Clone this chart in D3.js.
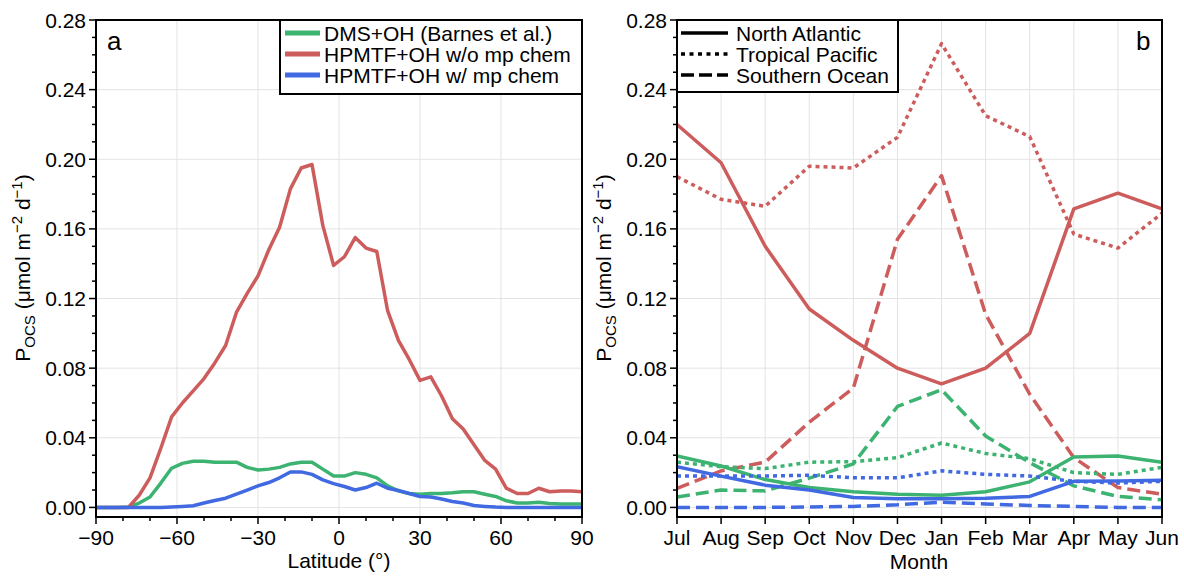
<!DOCTYPE html>
<html><head><meta charset="utf-8">
<script src="https://cdn.jsdelivr.net/npm/d3@7"></script>
<style>
body{margin:0;background:#fff}
svg{display:block}
text{font-family:"Liberation Sans",Arial,Helvetica,sans-serif;fill:#000}
</style>
</head><body>
<svg id="c" width="1184" height="577"></svg>
<script>
// ---------- Panel a data ----------
const latitudes = [-90,-86,-82,-78,-74,-70,-66,-62,-58,-54,-50,-46,-42,-38,-34,-30,-26,-22,-18,-14,-10,-6,-2,2,6,10,14,18,22,26,30,34,38,42,46,50,54,58,62,66,70,74,78,82,86,90];
const dmsOH = [0,0,0,0.0003,0.0025,0.006,0.014,0.0225,0.0253,0.0265,0.0265,0.026,0.026,0.026,0.023,0.0215,0.022,0.023,0.025,0.026,0.026,0.022,0.018,0.018,0.020,0.019,0.017,0.0124,0.0095,0.008,0.0076,0.008,0.008,0.0084,0.009,0.009,0.0076,0.0063,0.0038,0.0025,0.0025,0.003,0.0023,0.002,0.002,0.002];
const hpmtfNoMp = [0,0,0,0,0.007,0.017,0.034,0.052,0.060,0.067,0.074,0.083,0.093,0.112,0.123,0.133,0.148,0.161,0.183,0.195,0.197,0.162,0.139,0.144,0.155,0.149,0.147,0.113,0.096,0.085,0.073,0.075,0.064,0.051,0.045,0.036,0.027,0.022,0.011,0.008,0.008,0.011,0.009,0.0095,0.0095,0.009];
const hpmtfMp = [0,0,0,0,0,0,0,0.0003,0.0006,0.001,0.0025,0.004,0.0053,0.0076,0.010,0.0124,0.0143,0.017,0.0204,0.0204,0.019,0.0158,0.0137,0.012,0.010,0.0114,0.0139,0.011,0.0097,0.008,0.0063,0.006,0.0048,0.0034,0.0025,0.0011,0.0006,0.0002,0,0,0,0,0,0,0,0];
const latTicks = [-90,-60,-30,0,30,60,90];
const latMinorTicks = [-80,-70,-50,-40,-20,-10,10,20,40,50,70,80];

// ---------- Panel b data ----------
const months = ["Jul","Aug","Sep","Oct","Nov","Dec","Jan","Feb","Mar","Apr","May","Jun"];
const naNoMp = [0.220,0.198,0.150,0.114,0.096,0.080,0.071,0.080,0.100,0.1715,0.1805,0.1715];
const tpNoMp = [0.190,0.177,0.173,0.196,0.195,0.2126,0.2664,0.225,0.213,0.157,0.149,0.169];
const soNoMp = [0.011,0.021,0.026,0.049,0.0686,0.154,0.1906,0.111,0.065,0.0286,0.0114,0.0076];
const naDms = [0.0295,0.0238,0.016,0.0114,0.009,0.0076,0.007,0.009,0.0147,0.029,0.0295,0.026];
const tpDms = [0.026,0.0234,0.0223,0.026,0.0263,0.0286,0.037,0.031,0.028,0.020,0.019,0.023];
const soDms = [0.006,0.010,0.0095,0.0168,0.025,0.058,0.0676,0.041,0.0257,0.0124,0.0063,0.0044];
const naMp = [0.0234,0.018,0.0128,0.010,0.0057,0.005,0.005,0.0053,0.0063,0.015,0.0152,0.0156];
const tpMp = [0.018,0.018,0.018,0.0185,0.017,0.017,0.021,0.019,0.018,0.015,0.014,0.015];
const soMp = [0,0,0,0.0002,0.0006,0.0015,0.003,0.002,0.0011,0.0006,0,0];

const yTicks = [0,0.04,0.08,0.12,0.16,0.20,0.24,0.28];
const yMinorTicks = [0.01,0.02,0.03,0.05,0.06,0.07,0.09,0.10,0.11,0.13,0.14,0.15,0.17,0.18,0.19,0.21,0.22,0.23,0.25,0.26,0.27];

const seriesNames = ["DMS+OH (Barnes et al.)","HPMTF+OH w/o mp chem","HPMTF+OH w/ mp chem"];
const regionNames = ["North Atlantic","Tropical Pacific","Southern Ocean"];

// ---------- styles ----------
const GREEN = "#3cb371", RED = "#cd5c5c", BLUE = "#4169e1";
const DOT = "4,4", DASH = "13,6";
const LW = 3.5;

const svg = d3.select("#c");
const plotTop = 20, plotBottom = 517;
const yDomain = [-0.0055, 0.28];

function ylabel(g, x, y) {
  const t = g.append("text").attr("transform", `translate(${x},${y}) rotate(-90)`)
    .attr("text-anchor","middle").style("font-size","21px");
  t.append("tspan").text("P");
  t.append("tspan").attr("dy",5).style("font-size","15px").text("OCS");
  t.append("tspan").attr("dy",-5).text(" (\u03bcmol m");
  t.append("tspan").attr("dy",-8).style("font-size","15px").text("\u22122");
  t.append("tspan").attr("dy",8).text(" d");
  t.append("tspan").attr("dy",-8).style("font-size","15px").text("\u22121");
  t.append("tspan").attr("dy",8).text(")");
}

function panel(left, right, x, xTickVals, xTickLabels, xMinor, id) {
  const y = d3.scaleLinear().domain(yDomain).range([plotBottom, plotTop]);
  const g = svg.append("g");
  svg.append("clipPath").attr("id","clip"+id).append("rect")
    .attr("x",left).attr("y",plotTop).attr("width",right-left).attr("height",plotBottom-plotTop);
  const grid = g.append("g").attr("stroke","#e3e3e3").attr("stroke-width",1);
  xTickVals.forEach(v => { const px = x(v); if (px > left+1 && px < right-1)
    grid.append("line").attr("x1",px).attr("x2",px).attr("y1",plotTop).attr("y2",plotBottom); });
  yTicks.forEach(v => { const py = y(v); if (py > plotTop+1)
    grid.append("line").attr("x1",left).attr("x2",right).attr("y1",py).attr("y2",py); });
  const plot = g.append("g").attr("clip-path",`url(#clip${id})`);
  const frame = g.append("rect").attr("x",left).attr("y",plotTop).attr("width",right-left).attr("height",plotBottom-plotTop)
    .attr("fill","none").attr("stroke","#000").attr("stroke-width",2);
  const ax = g.append("g").attr("stroke","#000").attr("stroke-width",1.5);
  yTicks.forEach(v => ax.append("line").attr("x1",left-7).attr("x2",left).attr("y1",y(v)).attr("y2",y(v)));
  yMinorTicks.forEach(v => ax.append("line").attr("x1",left-4).attr("x2",left).attr("y1",y(v)).attr("y2",y(v)));
  yTicks.forEach(v => g.append("text").attr("x",left-10).attr("y",y(v)).attr("dy","0.36em")
    .attr("text-anchor","end").style("font-size","21px").text(d3.format(".2f")(v)));
  xTickVals.forEach(v => ax.append("line").attr("x1",x(v)).attr("x2",x(v)).attr("y1",plotBottom).attr("y2",plotBottom+7));
  xMinor.forEach(v => ax.append("line").attr("x1",x(v)).attr("x2",x(v)).attr("y1",plotBottom).attr("y2",plotBottom+4));
  xTickVals.forEach((v,i) => g.append("text").attr("x",x(v)).attr("y",545)
    .attr("text-anchor","middle").style("font-size","21px").text(xTickLabels[i]));
  return {g, y, plot, frame};
}

// ---------- Panel a ----------
const xa = d3.scaleLinear().domain([-90,90]).range([96,582]);
const pa = panel(96, 582, xa, latTicks, latTicks.map(v => v < 0 ? "\u2212"+Math.abs(v) : String(v)), latMinorTicks, "a");
const lineA = d3.line().x((d,i) => xa(latitudes[i])).y(d => pa.y(d));
[[dmsOH,GREEN],[hpmtfNoMp,RED],[hpmtfMp,BLUE]].forEach(([data,col]) => {
  pa.plot.append("path").attr("d", lineA(data)).attr("fill","none")
    .attr("stroke",col).attr("stroke-width",LW).attr("stroke-linejoin","round");
});
pa.g.append("text").attr("x",107).attr("y",50).style("font-size","26px").text("a");
pa.g.append("text").attr("x",339).attr("y",568).attr("text-anchor","middle").style("font-size","21px").text("Latitude (\u00b0)");
ylabel(pa.g, 30, 268);
const la = pa.g.append("g");
la.append("rect").attr("x",280).attr("y",20).attr("width",302).attr("height",74)
  .attr("fill","#fff").attr("stroke","#000").attr("stroke-width",2);
[GREEN,RED,BLUE].forEach((col,i) => {
  const yy = 33 + i*21;
  la.append("line").attr("x1",285).attr("x2",320).attr("y1",yy).attr("y2",yy).attr("stroke",col).attr("stroke-width",5);
  la.append("text").attr("x",324).attr("y",yy+8).style("font-size","21px").text(seriesNames[i]);
});

// ---------- Panel b ----------
const xb = d3.scalePoint().domain(months).range([677,1162]);
const pb = panel(677, 1162, xb, months, months, [], "b");
const lineB = d3.line().x((d,i) => xb(months[i])).y(d => pb.y(d));
const bSeries = [
  [soNoMp,RED,DASH],[tpNoMp,RED,DOT],[naNoMp,RED,null],
  [soDms,GREEN,DASH],[tpDms,GREEN,DOT],[naDms,GREEN,null],
  [soMp,BLUE,DASH],[tpMp,BLUE,DOT],[naMp,BLUE,null]
];
bSeries.forEach(([data,col,dash]) => {
  const p = pb.plot.append("path").attr("d", lineB(data)).attr("fill","none")
    .attr("stroke",col).attr("stroke-width",LW).attr("stroke-linejoin","round");
  if (dash) p.attr("stroke-dasharray", dash);
});
pb.g.append("text").attr("x",1136).attr("y",50).style("font-size","26px").text("b");
pb.g.append("text").attr("x",919).attr("y",569).attr("text-anchor","middle").style("font-size","21px").text("Month");
ylabel(pb.g, 611, 268);
const lb = pb.g.append("g");
lb.append("rect").attr("x",677).attr("y",20).attr("width",221).attr("height",72)
  .attr("fill","#fff").attr("stroke","#000").attr("stroke-width",2);
[null,DOT,DASH].forEach((dash,i) => {
  const yy = 33 + i*21;
  const l = lb.append("line").attr("x1",681).attr("x2",728).attr("y1",yy).attr("y2",yy).attr("stroke","#000").attr("stroke-width",3.5);
  if (dash) l.attr("stroke-dasharray", dash === DOT ? "4,4.5" : "13,5");
  lb.append("text").attr("x",736).attr("y",yy+8).style("font-size","21px").text(regionNames[i]);
});
</script>
</body></html>
